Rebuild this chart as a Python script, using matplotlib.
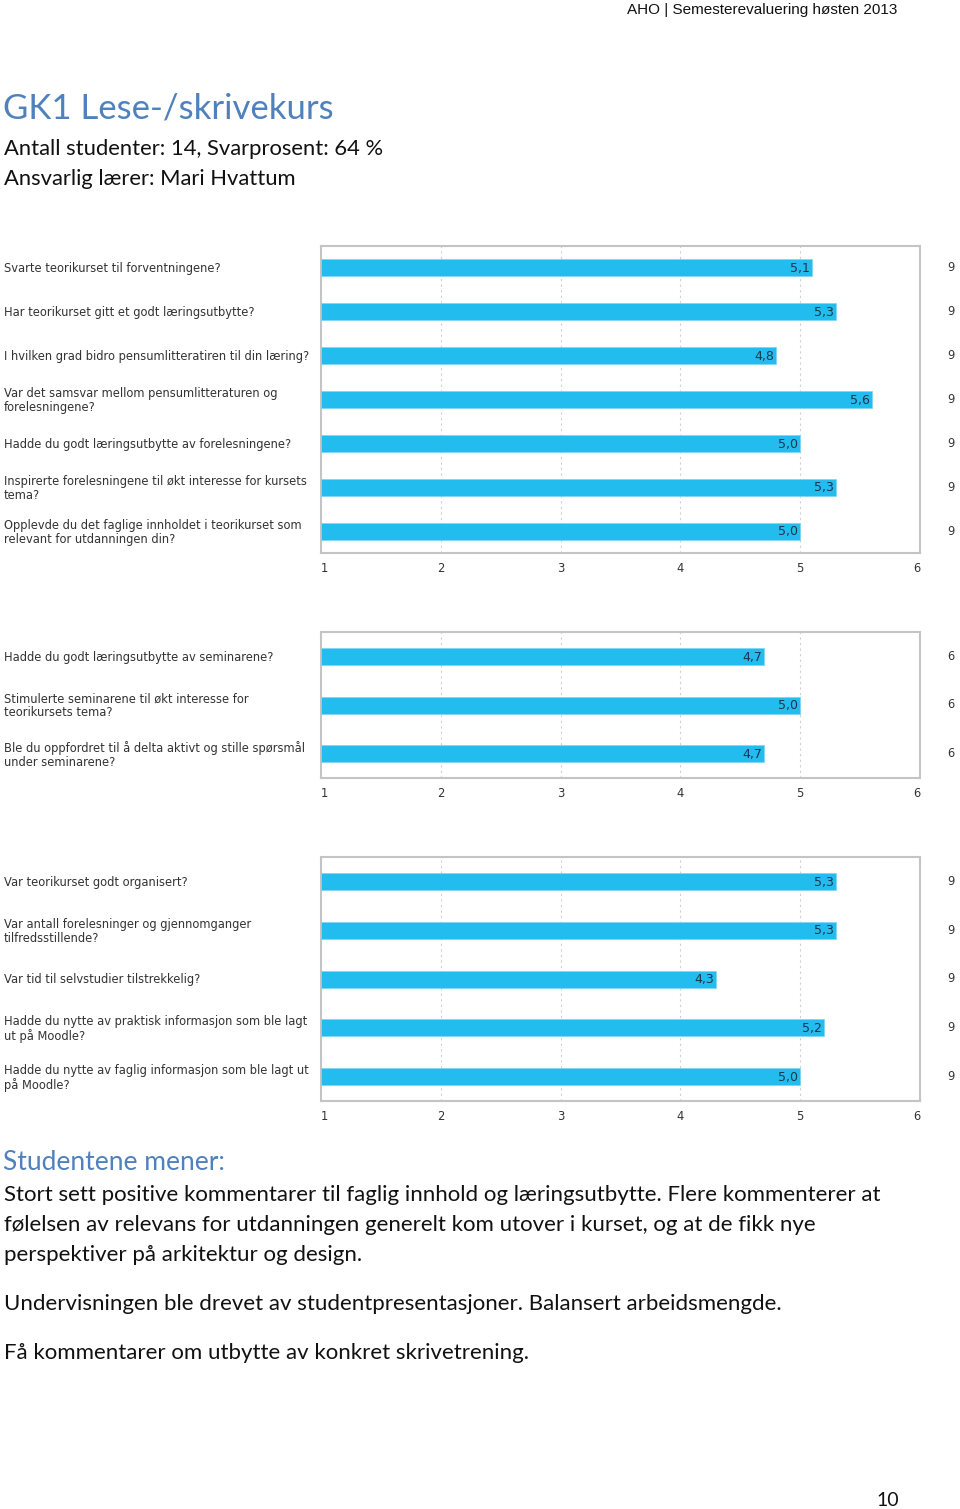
import matplotlib
matplotlib.use("Agg")
import matplotlib.pyplot as plt
import matplotlib.transforms as mtransforms

W, H = 960, 1509

# ---------------- data ----------------
q1 = ["Svarte teorikurset til forventningene?",
      "Har teorikurset gitt et godt læringsutbytte?",
      "I hvilken grad bidro pensumlitteratiren til din læring?",
      "Var det samsvar mellom pensumlitteraturen og\nforelesningene?",
      "Hadde du godt læringsutbytte av forelesningene?",
      "Inspirerte forelesningene til økt interesse for kursets\ntema?",
      "Opplevde du det faglige innholdet i teorikurset som\nrelevant for utdanningen din?"]
v1 = [5.1, 5.3, 4.8, 5.6, 5.0, 5.3, 5.0]
n1 = [9, 9, 9, 9, 9, 9, 9]

q2 = ["Hadde du godt læringsutbytte av seminarene?",
      "Stimulerte seminarene til økt interesse for\nteorikursets tema?",
      "Ble du oppfordret til å delta aktivt og stille spørsmål\nunder seminarene?"]
v2 = [4.7, 5.0, 4.7]
n2 = [6, 6, 6]

q3 = ["Var teorikurset godt organisert?",
      "Var antall forelesninger og gjennomganger\ntilfredsstillende?",
      "Var tid til selvstudier tilstrekkelig?",
      "Hadde du nytte av praktisk informasjon som ble lagt\nut på Moodle?",
      "Hadde du nytte av faglig informasjon som ble lagt ut\npå Moodle?"]
v3 = [5.3, 5.3, 4.3, 5.2, 5.0]
n3 = [9, 9, 9, 9, 9]

xticks = [1, 2, 3, 4, 5, 6]

BAR = "#22BDEE"
BLUE = "#4F81BD"

fig = plt.figure(figsize=(W / 100, H / 100), dpi=100)


def fx(px):
    return px / W


def fy(py):
    return 1 - py / H


def panel(top, bottom, qs, vals, counts, bar_px):
    ax = fig.add_axes([fx(321), fy(bottom), fx(920) - fx(321), (bottom - top) / H])
    n = len(vals)
    ys = list(range(n))
    step = (bottom - top) / n
    ax.barh(ys, [v - 1 for v in vals], left=1, height=bar_px / step,
            color=BAR, edgecolor="#7fd6f4", linewidth=0.6, zorder=3)
    ax.set_xlim(1, 6)
    ax.set_ylim(n - 0.5, -0.5)
    ax.set_yticks([])
    ax.set_xticks(xticks)
    ax.set_xticklabels([str(t) for t in xticks], fontsize=8.3, color="#333333",
                       family="DejaVu Sans")
    labs = ax.get_xticklabels()
    labs[0].set_horizontalalignment("left")
    labs[-1].set_horizontalalignment("right")
    ax.tick_params(axis="x", length=0, pad=6.5)
    for x in xticks[1:-1]:
        ax.axvline(x, color="#d0d0d0", linestyle=(0, (2, 3)), linewidth=0.8, zorder=1)
    for s in ax.spines.values():
        s.set_color("#c4c4c4")
        s.set_linewidth(1.5)
    tr_fig = mtransforms.blended_transform_factory(fig.transFigure, ax.transData)
    for y, q, v, c in zip(ys, qs, vals, counts):
        ax.annotate(f"{v:.1f}".replace(".", ","), xy=(v, y), xytext=(-1.5, -0.5),
                    textcoords="offset points", ha="right", va="center",
                    fontsize=9, color="#1c3550", family="DejaVu Sans", zorder=4)
        ax.annotate(q, xy=(fx(4), y), xycoords=tr_fig, xytext=(0, -0.7),
                    textcoords="offset points", ha="left", va="center",
                    fontsize=8.3, color="#333333", family="DejaVu Sans",
                    linespacing=1.1)
        ax.text(fx(951), y, str(c), transform=tr_fig, ha="center", va="center",
                fontsize=8.3, color="#333333", family="DejaVu Sans")
    return ax


panel(246, 553, q1, v1, n1, 17)
panel(632, 778, q2, v2, n2, 17)
panel(857, 1101, q3, v3, n3, 17)

# ---------------- header / texts ----------------
fig.text(fx(897), fy(10), "AHO | Semesterevaluering høsten 2013", ha="right", va="center",
         fontsize=11, family="Liberation Sans", color="#111111")
fig.text(fx(3), fy(109), "GK1 Lese-/skrivekurs", ha="left", va="center",
         fontsize=25, family="Lato", color=BLUE)
fig.text(fx(4), fy(149), "Antall studenter: 14, Svarprosent: 64 %", ha="left", va="center",
         fontsize=15.8, family="Lato", color="#111111")
fig.text(fx(4), fy(179), "Ansvarlig lærer: Mari Hvattum", ha="left", va="center",
         fontsize=15.8, family="Lato", color="#111111")

fig.text(fx(3), fy(1163), "Studentene mener:", ha="left", va="center",
         fontsize=19, family="Lato", color=BLUE)
body = [(1195, "Stort sett positive kommentarer til faglig innhold og læringsutbytte. Flere kommenterer at"),
        (1225, "følelsen av relevans for utdanningen generelt kom utover i kurset, og at de fikk nye"),
        (1255, "perspektiver på arkitektur og design."),
        (1304, "Undervisningen ble drevet av studentpresentasjoner. Balansert arbeidsmengde."),
        (1353, "Få kommentarer om utbytte av konkret skrivetrening.")]
for y, t in body:
    fig.text(fx(4), fy(y), t, ha="left", va="center", fontsize=16, family="Lato",
             color="#111111")
fig.text(fx(899), fy(1500), "10", ha="right", va="center", fontsize=14, family="Lato",
         color="#111111")

fig.savefig("out.png", dpi=100)
